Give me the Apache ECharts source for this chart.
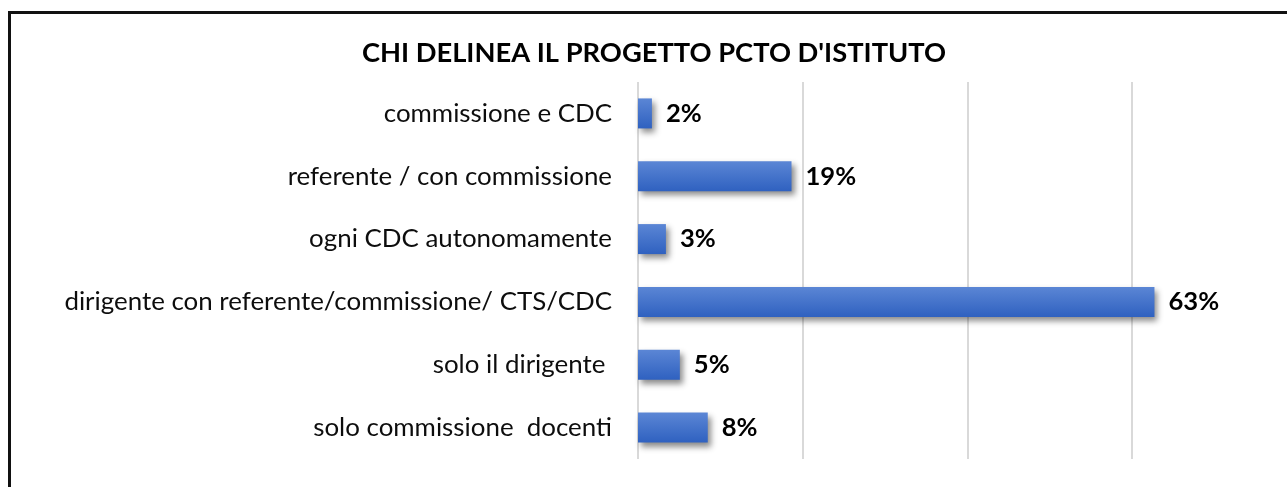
<!DOCTYPE html>
<html>
<head>
<meta charset="utf-8">
<script src="https://cdn.jsdelivr.net/npm/echarts@6/dist/echarts.min.js"></script>
<style>
html,body{margin:0;padding:0;width:1287px;height:487px;overflow:hidden;background:#fff;}
#frame{position:absolute;left:8px;top:11px;width:1400px;height:600px;border:3px solid #111;box-sizing:border-box;}
#chart{position:absolute;left:0;top:0;width:1287px;height:487px;}
</style>
</head>
<body>
<div id="frame"></div>
<div id="chart"></div>
<script>
const titleText = "CHI DELINEA IL PROGETTO PCTO D'ISTITUTO";
const categories = [
  "commissione e CDC",
  "referente / con commissione",
  "ogni CDC autonomamente",
  "dirigente con referente/commissione/ CTS/CDC",
  "solo il dirigente ",
  "solo commissione  docenti"
];
const values = [1.69, 18.64, 3.39, 62.71, 5.08, 8.47];
const xMin = 0;
const xMax = 70;
const xStep = 20;

const chart = echarts.init(document.getElementById('chart'), null, {renderer: 'canvas'});
chart.setOption({
  animation: false,
  title: {
    text: titleText,
    left: 649,
    textAlign: 'center',
    top: 35,
    textStyle: {fontFamily: 'Lato', fontWeight: 'bold', fontSize: 27.3, color: '#000'}
  },
  grid: {left: 638, top: 82, width: 576.5, height: 377, containLabel: false},
  xAxis: {
    type: 'value',
    min: xMin,
    max: xMax,
    interval: xStep,
    axisLine: {show: false},
    axisTick: {show: false},
    axisLabel: {show: false},
    splitLine: {show: true, showMaxLine: false, lineStyle: {color: '#d9d9d9', width: 2}}
  },
  yAxis: {
    type: 'category',
    data: categories,
    inverse: true,
    axisLine: {show: false},
    axisTick: {show: false},
    axisLabel: {
      margin: 26,
      fontFamily: 'Lato',
      fontSize: 25.9,
      color: '#0d0d0d'
    }
  },
  series: [{
    type: 'bar',
    data: values,
    barWidth: 30,
    itemStyle: {
      color: new echarts.graphic.LinearGradient(0, 0, 0, 1, [
        {offset: 0, color: '#5b86d5'},
        {offset: 1, color: '#2f61c0'}
      ]),
      shadowBlur: 6,
      shadowColor: 'rgba(0,0,0,0.45)',
      shadowOffsetX: 3,
      shadowOffsetY: 4
    },
    label: {
      show: true,
      position: 'right',
      distance: 14,
      formatter: p => Math.round(p.value) + '%',
      fontFamily: 'Lato',
      fontWeight: 'bold',
      fontSize: 25.6,
      color: '#000'
    }
  }]
});
</script>
</body>
</html>
